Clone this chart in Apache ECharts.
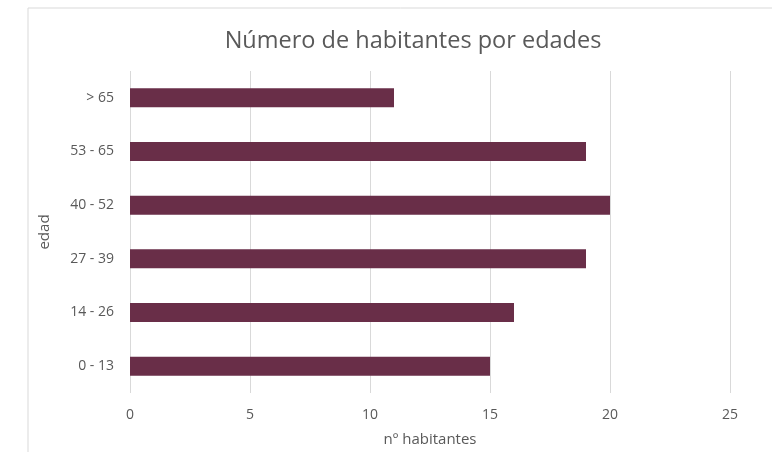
<!DOCTYPE html>
<html><head><meta charset="utf-8">
<script src="https://cdn.jsdelivr.net/npm/echarts@6/dist/echarts.min.js"></script>
<style>html,body{margin:0;padding:0;background:#fff}#c{width:772px;height:452px}</style>
</head><body><div id="c"></div>
<script>
const categories = ['0 - 13', '14 - 26', '27 - 39', '40 - 52', '53 - 65', '> 65'];
const habitantes = [15, 16, 19, 20, 19, 11];
const xTicks = [0, 5, 10, 15, 20, 25];

const font = 'Open Sans, Noto Sans, sans-serif';
const chart = echarts.init(document.getElementById('c'));
chart.setOption({
  backgroundColor: '#fff',
  animation: false,
  graphic: [{
    type: 'rect', shape: {x: 28, y: 8, width: 800, height: 500},
    style: {fill: 'none', stroke: '#d9d9d9', lineWidth: 1}, silent: true
  }],
  title: {
    text: 'Número de habitantes por edades', left: 408, top: 24, textAlign: 'center',
    textStyle: {fontFamily: font, fontSize: 23.5, fontWeight: 'normal', color: '#595959'}
  },
  grid: {left: 130, right: 42, top: 71, bottom: 57},
  xAxis: {
    type: 'value', min: xTicks[0], max: xTicks[xTicks.length - 1], interval: 5,
    name: 'nº habitantes', nameLocation: 'middle', nameGap: 39,
    nameTextStyle: {fontFamily: font, fontSize: 15, color: '#595959'},
    axisLine: {show: false}, axisTick: {show: false},
    axisLabel: {fontFamily: font, fontSize: 14, color: '#595959', margin: 15},
    splitLine: {show: true, lineStyle: {color: '#d9d9d9', width: 1}}
  },
  yAxis: {
    type: 'category', data: categories,
    name: 'edad', nameLocation: 'middle', nameGap: 78, nameRotate: 90,
    nameTextStyle: {fontFamily: font, fontSize: 15, color: '#595959'},
    axisLine: {show: false}, axisTick: {show: false},
    axisLabel: {fontFamily: font, fontSize: 14, color: '#595959', margin: 16}
  },
  series: [{
    type: 'bar', data: habitantes, barWidth: 19,
    itemStyle: {color: '#692E48'}
  }]
});
</script></body></html>
